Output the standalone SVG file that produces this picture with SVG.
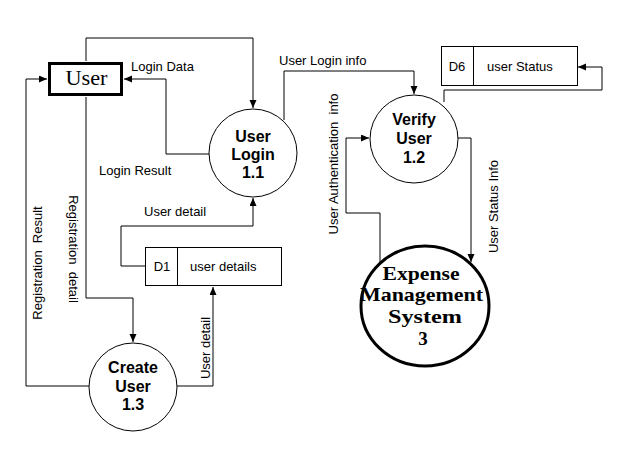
<svg xmlns="http://www.w3.org/2000/svg" width="617" height="450" viewBox="0 0 617 450">
<style>
.lbl{font-family:"Liberation Sans",Arial,sans-serif;font-size:13px;fill:#000}
.proc{font-family:"Liberation Sans",Arial,sans-serif;font-size:16px;font-weight:bold;fill:#000;text-anchor:middle}
.big{font-family:"Liberation Serif","Times New Roman",serif;font-size:19px;font-weight:bold;fill:#000;text-anchor:middle}
.c{fill:none;stroke:#000;stroke-width:1}
.shape{fill:#fff;stroke:#000;stroke-width:1}
</style>
<defs>
<marker id="arr" markerWidth="9" markerHeight="8" refX="8" refY="3.5" orient="auto" markerUnits="userSpaceOnUse">
<path d="M0,0 L8,3.5 L0,7 z" fill="#000"/>
</marker>
</defs>
<rect width="617" height="450" fill="#fff"/>
<g id="connectors">
<path class="c" d="M86,61 V38 H253 V108" marker-end="url(#arr)"/>
<path class="c" d="M209,154 H166 V79 H124" marker-end="url(#arr)"/>
<path class="c" d="M284,120 V71 H414 V94" marker-end="url(#arr)"/>
<path class="c" d="M444,102 V90 H602 V67 H578" marker-end="url(#arr)"/>
<path class="c" d="M380,262 V213 H346 V138 H369" marker-end="url(#arr)"/>
<path class="c" d="M458,138 H471 V262" marker-end="url(#arr)"/>
<path class="c" d="M86,97 V298 H133 V342" marker-end="url(#arr)"/>
<path class="c" d="M89,386 H26 V79 H47" marker-end="url(#arr)"/>
<path class="c" d="M177,386 H213 V287" marker-end="url(#arr)"/>
<path class="c" d="M145,266 H121 V226 H253 V198" marker-end="url(#arr)"/>
<text class="lbl" x="131" y="70.5">Login Data</text>
<text class="lbl" x="99" y="174.5">Login Result</text>
<text class="lbl" x="144" y="216">User detail</text>
<text class="lbl" x="279" y="64.5">User Login info</text>
<text class="lbl" text-anchor="middle" transform="translate(41.5,263) rotate(-90)" xml:space="preserve">Registration  Result</text>
<text class="lbl" text-anchor="middle" transform="translate(68.5,249) rotate(90)" xml:space="preserve">Registration  detail</text>
<text class="lbl" text-anchor="middle" transform="translate(209.5,348) rotate(-90)">User detail</text>
<text class="lbl" text-anchor="middle" transform="translate(338,164) rotate(-90)" xml:space="preserve">User Authentication  info</text>
<text class="lbl" text-anchor="middle" transform="translate(497.5,206.5) rotate(-90)">User Status Info</text>
</g>
<g id="user">
<rect x="49.5" y="63.5" width="72" height="31" fill="#fff" stroke="#000" stroke-width="3"/>
<text x="86.5" y="85" font-family="Liberation Serif,'Times New Roman',serif" font-size="20" text-anchor="middle" textLength="42" lengthAdjust="spacingAndGlyphs">User</text>
</g>
<g id="user-login">
<circle class="shape" cx="253" cy="153" r="44"/>
<text class="proc" x="253" y="142">User</text>
<text class="proc" x="253" y="160">Login</text>
<text class="proc" x="253" y="178">1.1</text>
</g>
<g id="verify-user">
<circle class="shape" cx="414" cy="139" r="44"/>
<text class="proc" x="414" y="125">Verify</text>
<text class="proc" x="414" y="144">User</text>
<text class="proc" x="414" y="163">1.2</text>
</g>
<g id="create-user">
<circle class="shape" cx="133" cy="387" r="44"/>
<text class="proc" x="133" y="373">Create</text>
<text class="proc" x="133" y="392">User</text>
<text class="proc" x="133" y="410">1.3</text>
</g>
<g id="expense">
<ellipse cx="425" cy="306" rx="64" ry="60" fill="#fff" stroke="#000" stroke-width="3"/>
<text class="big" x="421" y="280" textLength="77" lengthAdjust="spacingAndGlyphs">Expense</text>
<text class="big" x="421.5" y="301" textLength="123" lengthAdjust="spacingAndGlyphs">Management</text>
<text class="big" x="425" y="323" textLength="74" lengthAdjust="spacingAndGlyphs">System</text>
<text class="big" x="423" y="345">3</text>
</g>
<g id="d1">
<rect class="shape" x="145.5" y="247.5" width="136" height="38"/>
<line class="c" x1="177.5" y1="247.5" x2="177.5" y2="285.5"/>
<text class="lbl" x="162" y="270.5" text-anchor="middle">D1</text>
<text class="lbl" x="190" y="270.5">user details</text>
</g>
<g id="d6">
<rect class="shape" x="441.5" y="46.5" width="136" height="39"/>
<line class="c" x1="473.5" y1="46.5" x2="473.5" y2="85.5"/>
<text class="lbl" x="457" y="70.5" text-anchor="middle">D6</text>
<text class="lbl" x="487" y="70.5">user Status</text>
</g>
</svg>
